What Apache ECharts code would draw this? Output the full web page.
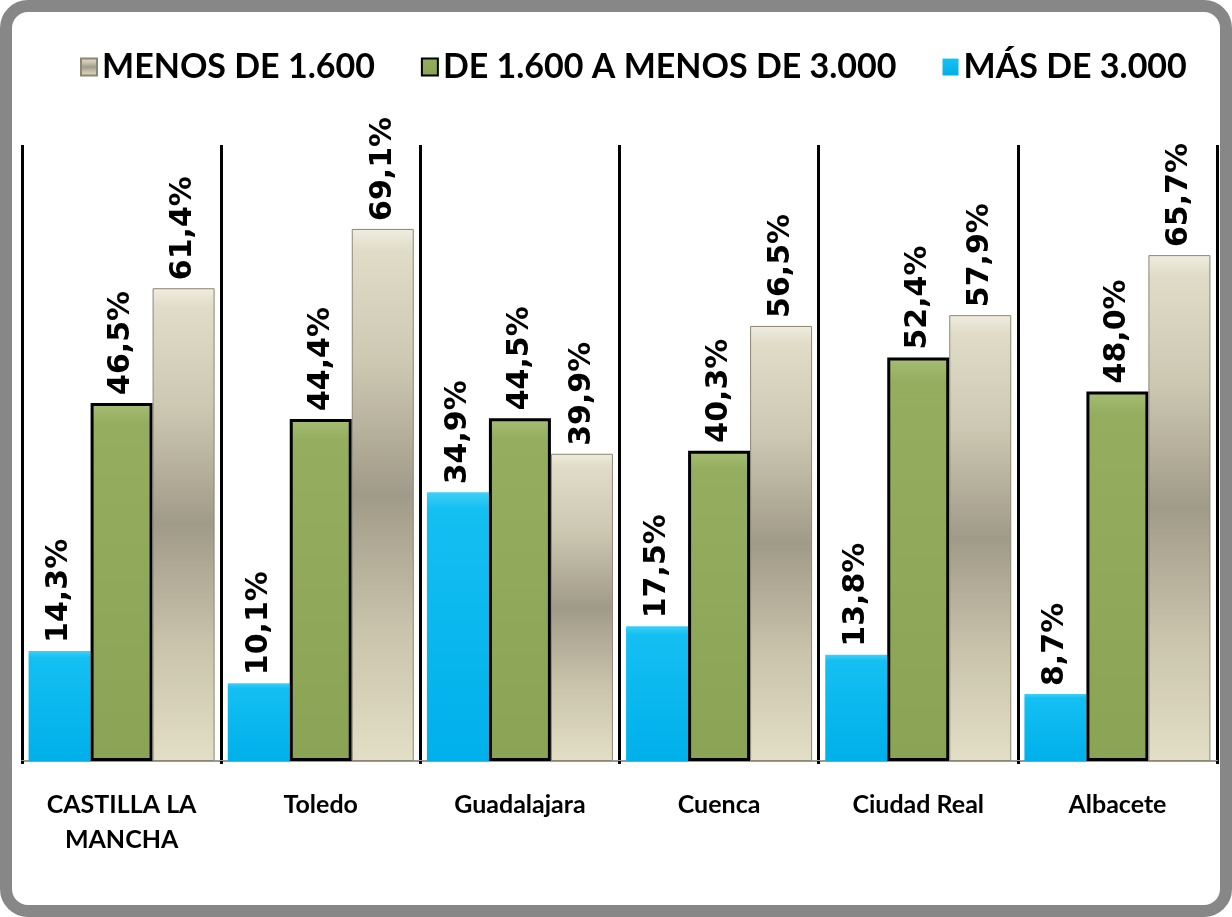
<!DOCTYPE html>
<html>
<head>
<meta charset="utf-8">
<script src="https://cdn.jsdelivr.net/npm/echarts@6/dist/echarts.min.js"></script>
<style>
  html, body { margin: 0; padding: 0; background: #ffffff; }
  #frame { position: absolute; left: 0; top: 0; width: 1232px; height: 917px; box-sizing: border-box;
           border: 12px solid #878787; border-radius: 28px; background: #ffffff; }
  #chart { position: absolute; left: 0; top: 0; width: 1232px; height: 917px; }
</style>
</head>
<body>
<div id="frame"></div>
<div id="chart"></div>
<script>
const categories = ['CASTILLA LA\nMANCHA', 'Toledo', 'Guadalajara', 'Cuenca', 'Ciudad Real', 'Albacete'];
const seriesNames = ['MÁS DE 3.000', 'DE 1.600 A MENOS DE 3.000', 'MENOS DE 1.600'];
const legendOrder = ['MENOS DE 1.600', 'DE 1.600 A MENOS DE 3.000', 'MÁS DE 3.000'];
const masDe3000 = [14.3, 10.1, 34.9, 17.5, 13.8, 8.7];
const de1600a3000 = [46.5, 44.4, 44.5, 40.3, 52.4, 48.0];
const menosDe1600 = [61.4, 69.1, 39.9, 56.5, 57.9, 65.7];

const chart = echarts.init(document.getElementById('chart'), null, { renderer: 'canvas' });

const labelOpt = {
  show: true,
  position: 'top',
  rotate: 90,
  align: 'left',
  verticalAlign: 'middle',
  distance: 8,
  fontFamily: 'DejaVu Sans',
  fontWeight: 'bold',
  fontSize: 30,
  color: '#000000',
  formatter: p => p.value.toFixed(1).replace('.', ',') + '%'
};

const lg = (stops) => new echarts.graphic.LinearGradient(0, 0, 0, 1, stops);

chart.setOption({
  backgroundColor: 'transparent',
  animation: false,
  legend: {
    data: legendOrder,
    icon: 'rect',
    left: 75,
    top: 45,
    itemWidth: 16,
    itemHeight: 17,
    itemGap: 46,
    textStyle: { fontFamily: 'Lato', fontWeight: 'bold', fontSize: 34, color: '#000000' }
  },
  grid: { left: 22, right: 15, top: 145, bottom: 156 },
  xAxis: {
    type: 'category',
    data: categories,
    axisLine: { show: true, lineStyle: { color: '#9a9a9a', width: 2 } },
    axisTick: { show: true, length: 3, lineStyle: { color: '#000000', width: 3 } },
    splitLine: { show: true, lineStyle: { color: '#000000', width: 3 } },
    axisLabel: {
      interval: 0,
      margin: 26,
      fontFamily: 'Lato',
      fontWeight: 'bold',
      fontSize: 25,
      lineHeight: 35,
      color: '#000000'
    }
  },
  yAxis: {
    type: 'value',
    min: 0,
    max: 80,
    interval: 10,
    show: false,
    splitLine: { show: false }
  },
  series: [
    {
      name: seriesNames[0],
      type: 'bar',
      data: masDe3000,
      barWidth: 62,
      barGap: '0%',
      itemStyle: {
        color: lg([{ offset: 0, color: '#3fd0f7' }, { offset: 0.06, color: '#14bff2' }, { offset: 1, color: '#00b0ea' }])
      },
      label: labelOpt
    },
    {
      name: seriesNames[1],
      type: 'bar',
      data: de1600a3000,
      barWidth: 62,
      barGap: '0%',
      itemStyle: {
        color: lg([{ offset: 0, color: '#a6be74' }, { offset: 0.06, color: '#94ad5f' }, { offset: 1, color: '#8aa354' }]),
        borderColor: '#000000',
        borderWidth: 3
      },
      label: labelOpt
    },
    {
      name: seriesNames[2],
      type: 'bar',
      data: menosDe1600,
      barWidth: 62,
      barGap: '0%',
      itemStyle: {
        color: lg([
          { offset: 0, color: '#f0ede0' },
          { offset: 0.04, color: '#e0dcc8' },
          { offset: 0.25, color: '#cdc8b2' },
          { offset: 0.5, color: '#a09a88' },
          { offset: 0.75, color: '#c9c3ac' },
          { offset: 1, color: '#e3dec6' }
        ]),
        borderColor: '#8c8674',
        borderWidth: 1
      },
      label: labelOpt
    }
  ]
});
</script>
</body>
</html>
